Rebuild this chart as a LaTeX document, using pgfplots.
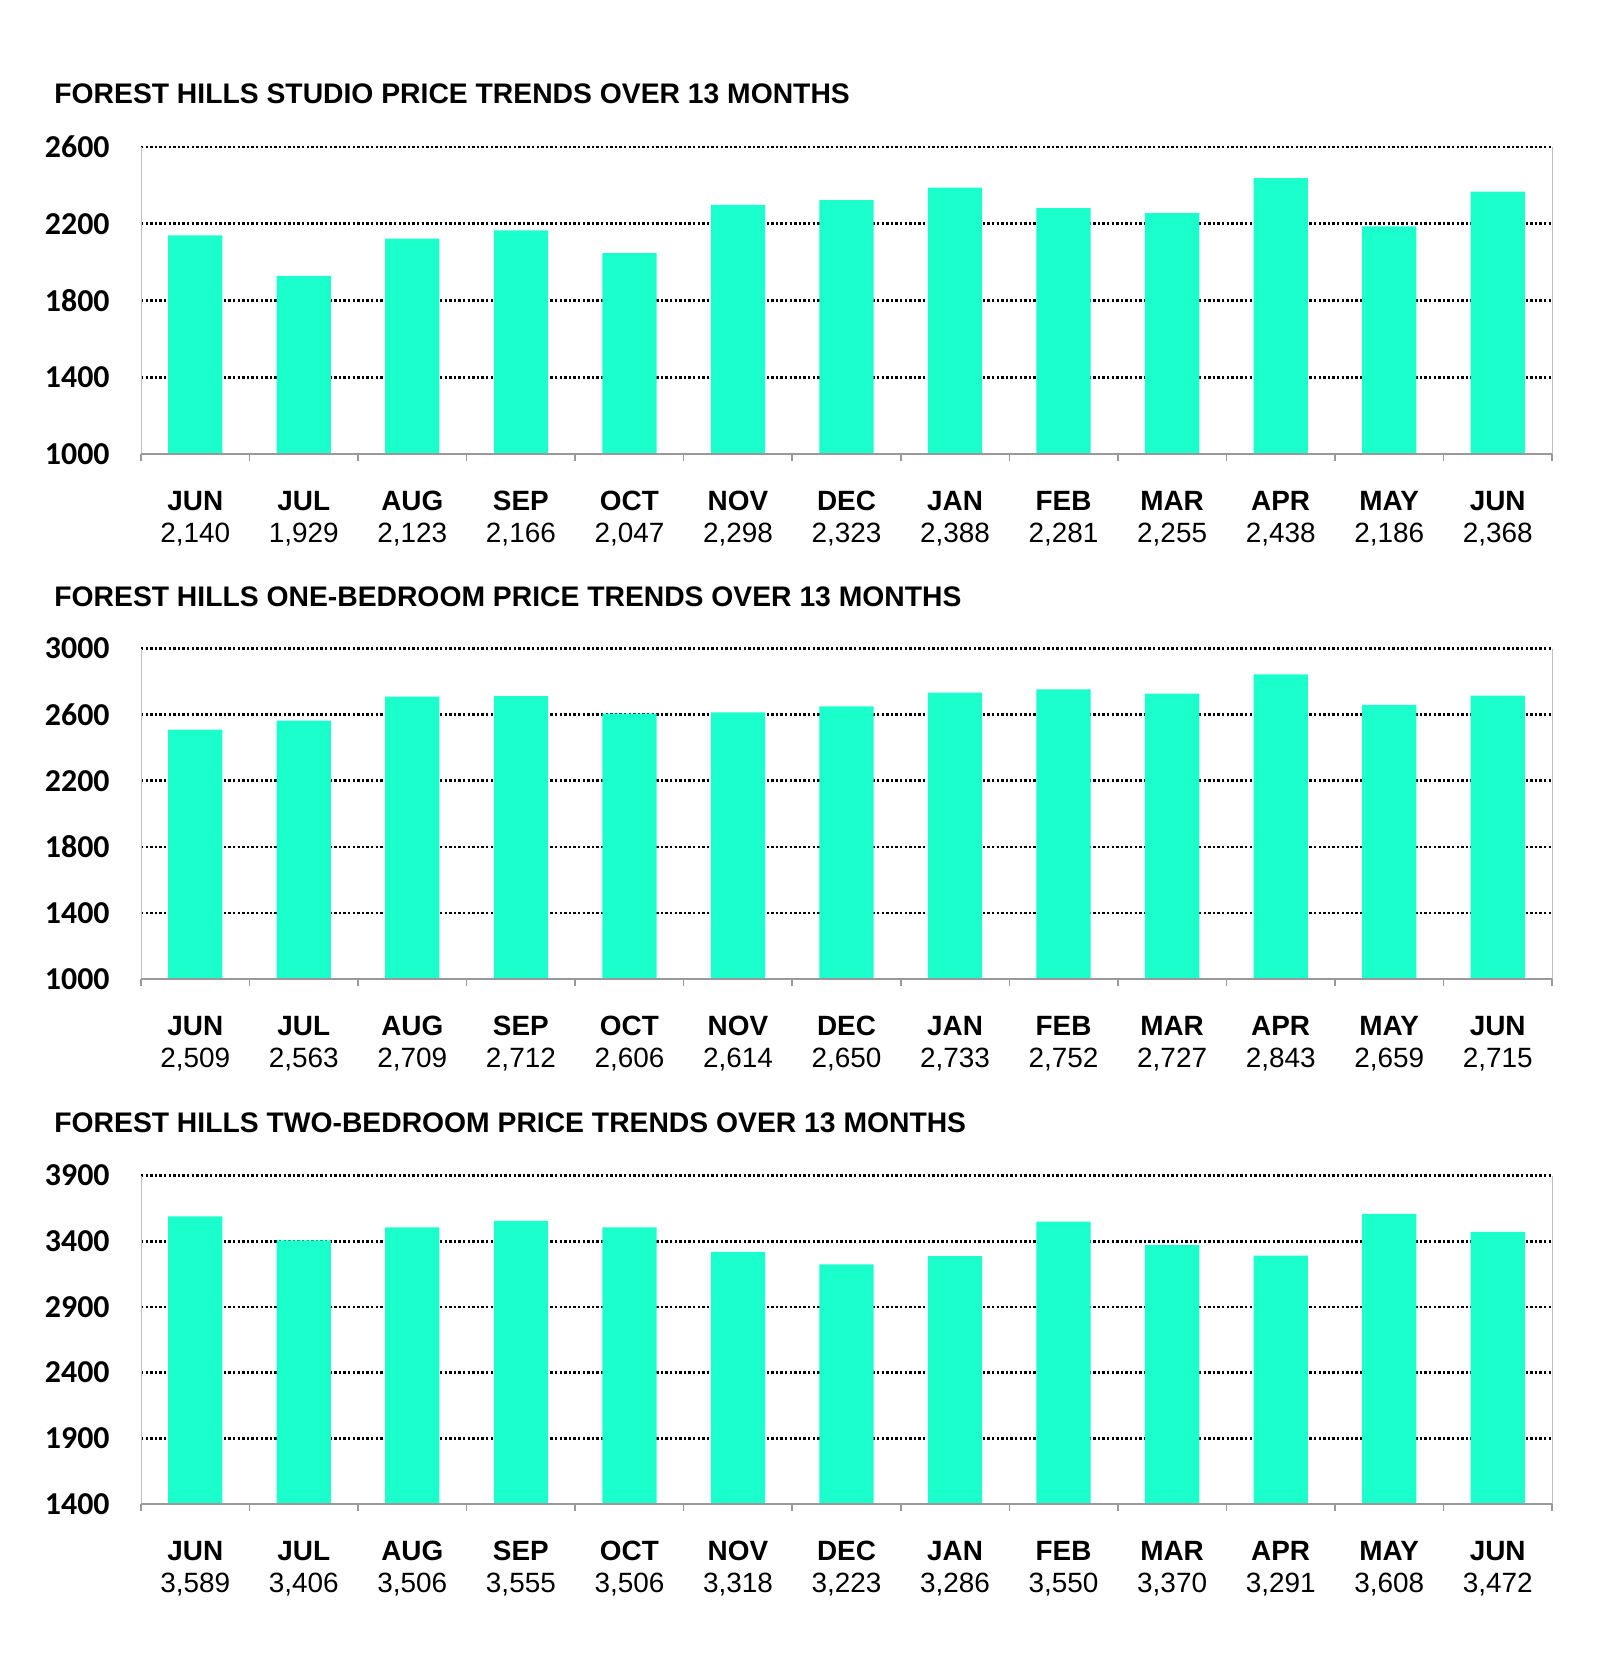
\documentclass[border=0pt]{standalone}
\usepackage{fontspec}
\setmainfont{Liberation Sans}
\newfontfamily\carlito{Carlito}
\usepackage{pgfplots}
\pgfplotsset{compat=1.18}
\definecolor{barc}{RGB}{26,255,204}
\pgfplotsset{
  fhbase/.style={
    scale only axis,
    width=705.5bp,
    xmin=-0.5, xmax=12.5,
    xtick={0,...,12},
    minor xtick={-0.5,0.5,...,12.5},
    major tick length=0pt,
    minor tick length=3.5bp,
    tick align=outside,
    xtick pos=lower, ytick pos=left,
    minor tick style={color=black!40, line width=0.75bp},
    axis line style={draw=none},
    ymajorgrids,
    grid style={black, line width=1.3bp, dash pattern=on 1.2bp off 1.1bp},
    xticklabel style={font=\fontsize{14}{16}\selectfont, align=center, anchor=north, inner sep=0pt, yshift=-18.5bp},
    yticklabel style={font=\carlito\bfseries\fontsize{16}{16}\selectfont, anchor=east, inner sep=0pt, xshift=-15.5bp},
    clip=false,
    ybar, bar width=0.5,
  },
  fhbars/.style={fill=barc, draw=none},
}
\newcommand{\fhframe}{%
  \draw[color=black!25, line width=0.5bp] (rel axis cs:0,0) -- (rel axis cs:0,1);
  \draw[color=black!25, line width=0.5bp] (rel axis cs:1,0) -- (rel axis cs:1,1);
  \draw[color=black!40, line width=1bp] (rel axis cs:0,0) -- (rel axis cs:1,0);
}
\begin{document}
\begin{tikzpicture}
\path (0,0) rectangle (800bp,-836.5bp);
% titles
\node[anchor=west, inner sep=0pt] at (27bp,-47bp) {\bfseries\fontsize{14.2}{16}\selectfont FOREST HILLS STUDIO PRICE TRENDS OVER 13 MONTHS};
\node[anchor=west, inner sep=0pt] at (27bp,-298.5bp) {\bfseries\fontsize{14.2}{16}\selectfont FOREST HILLS ONE-BEDROOM PRICE TRENDS OVER 13 MONTHS};
\node[anchor=west, inner sep=0pt] at (27bp,-561.5bp) {\bfseries\fontsize{14.2}{16}\selectfont FOREST HILLS TWO-BEDROOM PRICE TRENDS OVER 13 MONTHS};

% Chart 1: studio
\begin{axis}[fhbase, at={(70.5bp,-227bp)}, anchor=south west, height=153.5bp,
  ymin=1000, ymax=2600, ytick={1000,1400,1800,2200,2600},
  yticklabels={1000,1400,1800,2200,2600},
  xticklabels={{\textbf{JUN}\\2,140},{\textbf{JUL}\\1,929},{\textbf{AUG}\\2,123},{\textbf{SEP}\\2,166},{\textbf{OCT}\\2,047},{\textbf{NOV}\\2,298},{\textbf{DEC}\\2,323},{\textbf{JAN}\\2,388},{\textbf{FEB}\\2,281},{\textbf{MAR}\\2,255},{\textbf{APR}\\2,438},{\textbf{MAY}\\2,186},{\textbf{JUN}\\2,368}}]
\addplot[fhbars] coordinates {(0,2140) (1,1929) (2,2123) (3,2166) (4,2047) (5,2298) (6,2323) (7,2388) (8,2281) (9,2255) (10,2438) (11,2186) (12,2368)};
\fhframe
\end{axis}

% Chart 2: one-bedroom
\begin{axis}[fhbase, at={(70.5bp,-489.5bp)}, anchor=south west, height=165.25bp,
  ymin=1000, ymax=3000, ytick={1000,1400,1800,2200,2600,3000},
  yticklabels={1000,1400,1800,2200,2600,3000},
  xticklabels={{\textbf{JUN}\\2,509},{\textbf{JUL}\\2,563},{\textbf{AUG}\\2,709},{\textbf{SEP}\\2,712},{\textbf{OCT}\\2,606},{\textbf{NOV}\\2,614},{\textbf{DEC}\\2,650},{\textbf{JAN}\\2,733},{\textbf{FEB}\\2,752},{\textbf{MAR}\\2,727},{\textbf{APR}\\2,843},{\textbf{MAY}\\2,659},{\textbf{JUN}\\2,715}}]
\addplot[fhbars] coordinates {(0,2509) (1,2563) (2,2709) (3,2712) (4,2606) (5,2614) (6,2650) (7,2733) (8,2752) (9,2727) (10,2843) (11,2659) (12,2715)};
\fhframe
\end{axis}

% Chart 3: two-bedroom
\begin{axis}[fhbase, at={(70.5bp,-752bp)}, anchor=south west, height=164.25bp,
  ymin=1400, ymax=3900, ytick={1400,1900,2400,2900,3400,3900},
  yticklabels={1400,1900,2400,2900,3400,3900},
  xticklabels={{\textbf{JUN}\\3,589},{\textbf{JUL}\\3,406},{\textbf{AUG}\\3,506},{\textbf{SEP}\\3,555},{\textbf{OCT}\\3,506},{\textbf{NOV}\\3,318},{\textbf{DEC}\\3,223},{\textbf{JAN}\\3,286},{\textbf{FEB}\\3,550},{\textbf{MAR}\\3,370},{\textbf{APR}\\3,291},{\textbf{MAY}\\3,608},{\textbf{JUN}\\3,472}}]
\addplot[fhbars] coordinates {(0,3589) (1,3406) (2,3506) (3,3555) (4,3506) (5,3318) (6,3223) (7,3286) (8,3550) (9,3370) (10,3291) (11,3608) (12,3472)};
\fhframe
\end{axis}
\end{tikzpicture}
\end{document}
